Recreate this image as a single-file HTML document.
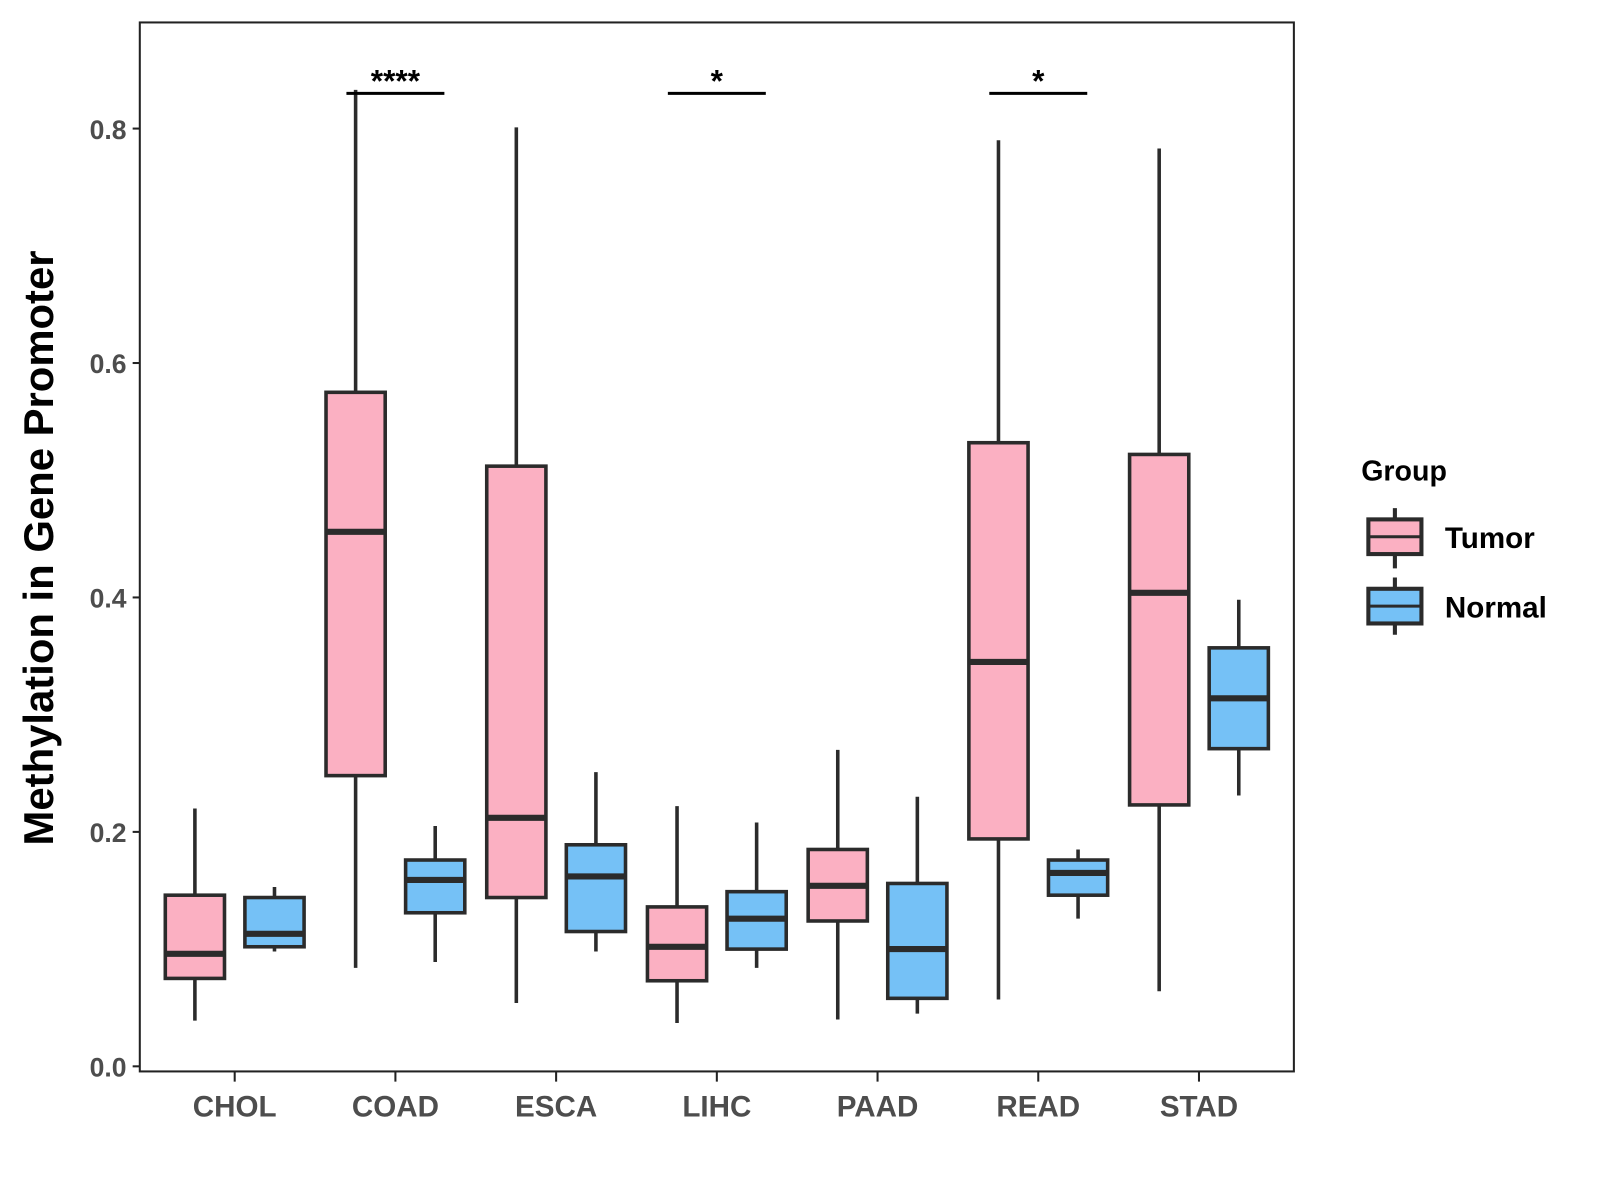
<!DOCTYPE html>
<html><head><meta charset="utf-8"><style>
html,body{margin:0;padding:0;background:#fff;}
svg{display:block;font-family:"Liberation Sans",Arial,sans-serif;}
</style></head><body>
<svg id="chart" width="1600" height="1200" viewBox="0 0 1568 1176" xmlns="http://www.w3.org/2000/svg">
<rect x="0" y="0" width="1568" height="1176" fill="#fff"/>
<g id="marks"></g>
<rect x="137" y="22" width="1131" height="1028" fill="none" stroke="#222" stroke-width="2"/>
<text transform="translate(52,537) rotate(-90)" text-anchor="middle" font-size="41" font-weight="bold" fill="#000">Methylation in Gene Promoter</text>
<g>
<text x="1334" y="471" font-size="28" font-weight="bold" fill="#000">Group</text>
<g>
<line x1="1367" y1="498" x2="1367" y2="557" stroke="#2b2b2b" stroke-width="4"/>
<rect x="1341" y="509" width="52" height="34" fill="#FBB0C2" stroke="#2b2b2b" stroke-width="4"/>
<line x1="1341" y1="526" x2="1393" y2="526" stroke="#2b2b2b" stroke-width="3"/>
<text x="1416" y="537" font-size="29" font-weight="bold" fill="#000">Tumor</text>
</g>
<g>
<line x1="1367" y1="566" x2="1367" y2="622" stroke="#2b2b2b" stroke-width="4"/>
<rect x="1341" y="577" width="52" height="34" fill="#75C1F6" stroke="#2b2b2b" stroke-width="4"/>
<line x1="1341" y1="594" x2="1393" y2="594" stroke="#2b2b2b" stroke-width="3"/>
<text x="1416" y="605" font-size="29" font-weight="bold" fill="#000">Normal</text>
</g>
</g>
</svg>
<script>
const categories = ["CHOL","COAD","ESCA","LIHC","PAAD","READ","STAD"];
const tumorMin = [0.039,0.084,0.054,0.037,0.040,0.057,0.064];
const tumorQ1  = [0.075,0.248,0.144,0.073,0.124,0.194,0.223];
const tumorMed = [0.096,0.456,0.212,0.102,0.154,0.345,0.404];
const tumorQ3  = [0.146,0.575,0.512,0.136,0.185,0.532,0.522];
const tumorMax = [0.220,0.833,0.801,0.222,0.270,0.790,0.783];
const normalMin = [0.098,0.089,0.098,0.084,0.045,0.126,0.231];
const normalQ1  = [0.102,0.131,0.115,0.100,0.058,0.146,0.271];
const normalMed = [0.113,0.159,0.162,0.126,0.100,0.165,0.314];
const normalQ3  = [0.144,0.176,0.189,0.149,0.156,0.176,0.357];
const normalMax = [0.153,0.205,0.251,0.208,0.230,0.185,0.398];
const yTicks = [0.0,0.2,0.4,0.6,0.8];
const yTickLabels = ["0.0","0.2","0.4","0.6","0.8"];
const sigCategories = ["COAD","LIHC","READ"];
const sigLabels = ["****","*","*"];
const sigLevel = 0.830;

const NS="http://www.w3.org/2000/svg";
const svg=document.getElementById('marks');
function yS(v){return 1045 - v*1148.75;}
function xS(i){return 230 + i*157.5;}
function mk(tag,attrs,parent){const e=document.createElementNS(NS,tag);for(const k in attrs)e.setAttribute(k,attrs[k]);(parent||svg).appendChild(e);return e;}

yTicks.forEach((t,i)=>{
  const g=mk('g',{});
  
  
  mk('line',{x1:130,x2:137,y1:yS(t),y2:yS(t),stroke:'#222','stroke-width':2},g);
  const tx=mk('text',{x:124,y:yS(t)+10,'text-anchor':'end','font-size':26,'font-weight':'bold',fill:'#4d4d4d'},g);
  tx.textContent=yTickLabels[i];
});
categories.forEach((c,i)=>{
  const g=mk('g',{});
  
  
  mk('line',{x1:xS(i),x2:xS(i),y1:1050,y2:1060,stroke:'#222','stroke-width':2},g);
  const tx=mk('text',{x:xS(i),y:1094,'text-anchor':'middle','font-size':29,'font-weight':'bold',fill:'#4d4d4d'},g);
  tx.textContent=c;
});
function box(i,off,mn,q1,md,q3,mx,fill,name){
  const cx=xS(i)+off, w=58;
  const g=mk('g',{});
  
  
  mk('line',{x1:cx,x2:cx,y1:yS(mn),y2:yS(mx),stroke:'#2b2b2b','stroke-width':3.5},g);
  mk('rect',{x:cx-w/2,y:yS(q3),width:w,height:yS(q1)-yS(q3),fill:fill,stroke:'#2b2b2b','stroke-width':3.5},g);
  mk('line',{x1:cx-w/2,x2:cx+w/2,y1:yS(md),y2:yS(md),stroke:'#2b2b2b','stroke-width':6},g);
}
categories.forEach((c,i)=>{
  box(i,-39,tumorMin[i],tumorQ1[i],tumorMed[i],tumorQ3[i],tumorMax[i],'#FBB0C2','box-'+c.toLowerCase()+'-tumor');
  box(i,39,normalMin[i],normalQ1[i],normalMed[i],normalQ3[i],normalMax[i],'#75C1F6','box-'+c.toLowerCase()+'-normal');
});
sigCategories.forEach((c,k)=>{
  const i=categories.indexOf(c);
  const g=mk('g',{});
  
  
  mk('line',{x1:xS(i)-48,x2:xS(i)+48,y1:yS(sigLevel),y2:yS(sigLevel),stroke:'#000','stroke-width':3},g);
  const t=mk('text',{x:xS(i),y:yS(sigLevel)-2,'text-anchor':'middle','font-size':31,'font-weight':'bold',fill:'#000'},g);
  t.textContent=sigLabels[k];
});
</script>
</body></html>
